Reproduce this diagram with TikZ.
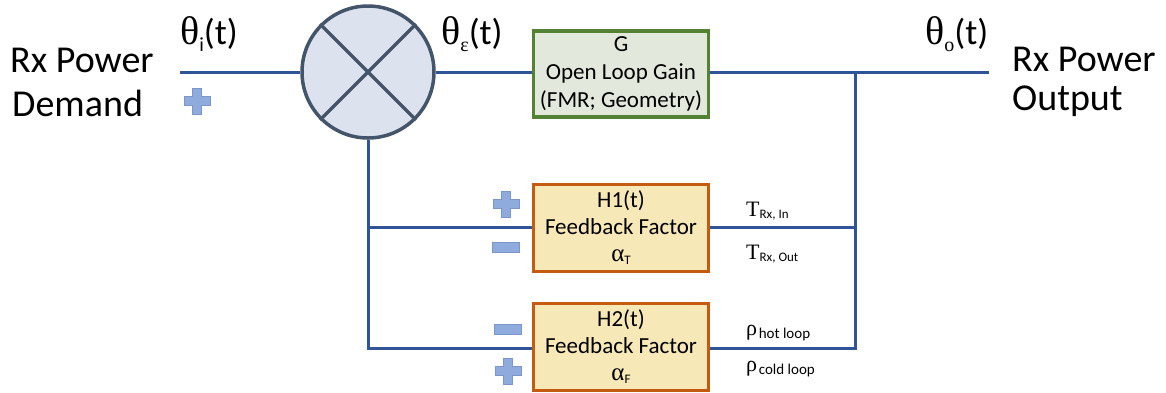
\documentclass[tikz,border=0pt]{standalone}
\usepackage{fontspec}
\setmainfont{Carlito}
\newfontfamily\symf{Liberation Serif}
\definecolor{lineblue}{HTML}{2F5597}
\definecolor{slate}{HTML}{44546A}
\definecolor{sumfill}{HTML}{DCE3EE}
\definecolor{gborder}{HTML}{548235}
\definecolor{gfill}{HTML}{E2E9DC}
\definecolor{hborder}{HTML}{C55A11}
\definecolor{hfill}{HTML}{F7E8B8}
\definecolor{signfill}{HTML}{8FAADC}
\definecolor{signline}{HTML}{7A97CC}
\newcommand\fs[2]{\fontsize{#1bp}{#2bp}\selectfont}
\newcommand\thlab[1]{{\symf\fs{40}{40}θ}\raisebox{-7bp}{\fs{20}{20}#1}{\fs{36}{36}(t)}}
\begin{document}
\begin{tikzpicture}[x=1bp,y=-1bp,
  wire/.style={draw=lineblue,line width=3bp},
  blockg/.style={draw=gborder,fill=gfill,line width=3.5bp,minimum width=175bp,minimum height=86bp,inner sep=0pt,align=center,font=\fs{23}{28}},
  blockh/.style={draw=hborder,fill=hfill,line width=3.5bp,minimum width=175bp,minimum height=87bp,inner sep=0pt,align=center,font=\fs{23}{27}},
  bigtxt/.style={anchor=base west,inner sep=0pt,font=\fs{38}{44}},
  sig/.style={anchor=base west,inner sep=0pt},
  signst/.style={fill=signfill,draw=signline,line width=0.8bp},
  plussign/.pic={\path[signst] (-4.5,-13) -- (4.5,-13) -- (4.5,-4.5) -- (13,-4.5) -- (13,4.5) -- (4.5,4.5) -- (4.5,13) -- (-4.5,13) -- (-4.5,4.5) -- (-13,4.5) -- (-13,-4.5) -- (-4.5,-4.5) -- cycle;},
  minussign/.pic={\path[signst] (-13.5,-5) rectangle (13.5,5);}
]
\useasboundingbox (0,0) rectangle (1166,392);

% summing junction
\node[circle,draw=slate,fill=sumfill,line width=3.5bp,minimum size=132bp,inner sep=0pt] (sum) at (368,72) {};
\draw[slate,line width=3.5bp] (sum.north west) -- (sum.south east);
\draw[slate,line width=3.5bp] (sum.north east) -- (sum.south west);

% blocks
\node[blockg] (G) at (621,74) {G\\Open Loop Gain\\(FMR; Geometry)};
\node[blockh] (H1) at (621,228) {H1(t)\\Feedback Factor\\{\symf\fs{25}{27}α}\raisebox{-3bp}{\fs{13}{13}T}};
\node[blockh] (H2) at (621,347) {H2(t)\\Feedback Factor\\{\symf\fs{25}{27}α}\raisebox{-3bp}{\fs{13}{13}F}};

% coordinates
\coordinate (in) at (180,72);
\coordinate (out) at (989,72);
\coordinate (jr) at (855,72);
\coordinate (jl1) at (368,227);
\coordinate (jl2) at (368,348);
\coordinate (jr1) at (855,227);
\coordinate (jr2) at (855,348);

% connectors
\draw[wire] (in) -- (sum.west);
\draw[wire] (sum.east) -- (G.west |- sum.east);
\draw[wire] (G.east |- jr) -- (out);
\draw[wire] (sum.south) -- (jl2) -- (H2.west |- jl2);
\draw[wire] (jl1) -- (H1.west |- jl1);
\draw[wire] (H1.east |- jr1) -- (jr1);
\draw[wire] (H2.east |- jr2) -- (jr2) -- (jr);

% signal labels
\node[sig] (thi) at (180,44) {\thlab{i}};
\node[sig] (the) at (441,44) {\thlab{\symf ε}};
\node[sig] (tho) at (925,44) {\thlab{\symf o}};

\node[bigtxt] (dem1) at (10,72) {Rx Power};
\node[bigtxt] (dem2) at (12,116) {Demand};
\node[bigtxt] (out1) at (1012,71) {Rx Power};
\node[bigtxt] (out2) at (1012,110) {Output};

\node[sig] (tin) at (746,216) {{\symf\fs{22}{22}T}\raisebox{-2bp}{\fs{13}{13}Rx, In}};
\node[sig] (tout) at (746,259) {{\symf\fs{22}{22}T}\raisebox{-2bp}{\fs{13}{13}Rx, Out}};
\node[sig] (rhot) at (746,335) {{\symf\fs{22}{22}ρ}\,\raisebox{-3bp}{\fs{15}{15}hot loop}};
\node[sig] (rcold) at (746,371) {{\symf\fs{22}{22}ρ}\,\raisebox{-3bp}{\fs{15}{15}cold loop}};

% signs
\pic at (197,101) {plussign};
\pic at (506,204) {plussign};
\pic at (506,247) {minussign};
\pic at (508,329) {minussign};
\pic at (508,371) {plussign};
\end{tikzpicture}
\end{document}
